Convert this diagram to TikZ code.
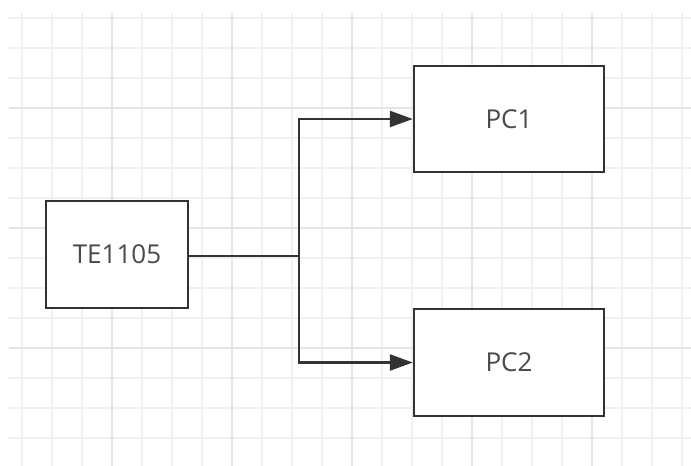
\documentclass[tikz,border=0pt]{standalone}
\usepackage{fontspec}
\setmainfont{Open Sans}
\usetikzlibrary{arrows.meta}
\definecolor{minorgrid}{HTML}{F0F0F0}
\definecolor{majorgrid}{HTML}{E5E5E5}
\definecolor{edgecol}{HTML}{333333}
\definecolor{textcol}{HTML}{4A4A4A}
\tikzset{
  box/.style={draw=edgecol, line width=2.4pt, fill=white, minimum width=#1, inner sep=0pt,
    font=\fontsize{26}{30}\selectfont, text=textcol},
  conn/.style={draw=edgecol, line width=2.5pt},
  arr/.style={conn, -{Triangle[length=23pt,width=16pt]}},
}
\begin{document}
\begin{tikzpicture}[x=1pt,y=-1pt]
\useasboundingbox (0,0) rectangle (691,466);
\fill[white] (0,0) rectangle (691,466);
% grid
\foreach \gx in {22,52,...,682} {\draw[minorgrid, line width=1.8pt] (\gx,13) -- (\gx,466);}
\foreach \gy in {18,48,...,466} {\draw[minorgrid, line width=1.8pt] (9,\gy) -- (691,\gy);}
\foreach \gx in {112,232,...,682} {\draw[majorgrid, line width=2pt] (\gx,13) -- (\gx,466);}
\foreach \gy in {108,228,348} {\draw[majorgrid, line width=2pt] (9,\gy) -- (691,\gy);}
% nodes
\node[box=142pt, minimum height=107pt] (te) at (117,254.5) {TE1105};
\node[box=190pt, minimum height=106pt] (pc1) at (509,119) {PC1};
\node[box=190pt, minimum height=107pt] (pc2) at (509,362.5) {PC2};
\coordinate (jn) at (299,256);
% connectors
\draw[conn] (te.east |- jn) -- (jn);
\draw[arr] (jn) |- (pc1.west);
\draw[arr] (jn) |- (pc2.west);
\end{tikzpicture}
\end{document}
